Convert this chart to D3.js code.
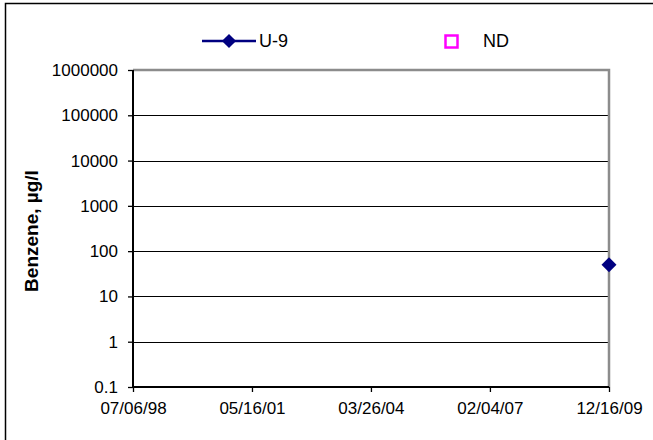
<!DOCTYPE html>
<html>
<head>
<meta charset="utf-8">
<script src="https://cdn.jsdelivr.net/npm/d3@7"></script>
<style>
  html, body { margin: 0; padding: 0; background: #fff; }
  svg { display: block; }
  text { font-family: "Liberation Sans", Arial, sans-serif; fill: #000; }
</style>
</head>
<body>
<svg id="chart" width="653" height="440"></svg>
<script>
// ---- data ----
const seriesName = "U-9";
const ndName = "ND";
const sampleDates = ["2009-12-16"];
const sampleValues = [50];
const ndDates = [];
const ndValues = [];
const yTickValues = [0.1, 1, 10, 100, 1000, 10000, 100000, 1000000];
const yTickLabels = ["0.1", "1", "10", "100", "1000", "10000", "100000", "1000000"];
const xTickDates = ["1998-07-06", "2001-05-16", "2004-03-26", "2007-02-04", "2009-12-16"];
const xTickLabels = ["07/06/98", "05/16/01", "03/26/04", "02/04/07", "12/16/09"];
const yLabel = "Benzene, µg/l";

// ---- layout ----
const W = 653, H = 440;
const plot = { left: 133, right: 609, top: 70, bottom: 387 };
const parse = d3.utcParse("%Y-%m-%d");

const svg = d3.select("#chart");
svg.append("rect").attr("width", W).attr("height", H).attr("fill", "#fff");
// outer frame
svg.append("rect").attr("x", 5.5).attr("y", 3.5).attr("width", 700).attr("height", 500)
  .attr("fill", "none").attr("stroke", "#000").attr("stroke-width", 1.5);

const x = d3.scaleUtc()
  .domain([parse(xTickDates[0]), parse(xTickDates[xTickDates.length - 1])])
  .range([plot.left, plot.right]);
const y = d3.scaleLog()
  .domain([yTickValues[0], yTickValues[yTickValues.length - 1]])
  .range([plot.bottom, plot.top]);

// gridlines
svg.append("g").selectAll("line")
  .data(yTickValues.slice(1, -1))
  .join("line")
  .attr("x1", plot.left).attr("x2", plot.right)
  .attr("y1", d => Math.round(y(d)) + 0.5).attr("y2", d => Math.round(y(d)) + 0.5)
  .attr("stroke", "#000").attr("stroke-width", 1);

// top & right frame (gray)
svg.append("path")
  .attr("d", `M${plot.left},${plot.top} H${plot.right} V${plot.bottom}`)
  .attr("fill", "none").attr("stroke", "#8c8c8c").attr("stroke-width", 2.5);

// y axis
const yAxis = d3.axisLeft(y)
  .tickValues(yTickValues)
  .tickFormat((d, i) => yTickLabels[i])
  .tickSize(5).tickPadding(10);
const gy = svg.append("g").attr("transform", `translate(${plot.left},0)`).call(yAxis);
gy.select(".domain").attr("stroke", "#000").attr("stroke-width", 2)
  .attr("d", `M0,${plot.top}V${plot.bottom}`);
gy.selectAll(".tick line").attr("stroke", "#000").attr("stroke-width", 1.3);
gy.selectAll(".tick text").style("font-size", "17px").attr("font-family", "Liberation Sans, Arial, sans-serif").attr("fill", "#000");

// x axis
const xAxis = d3.axisBottom(x)
  .tickValues(xTickDates.map(parse))
  .tickFormat((d, i) => xTickLabels[i])
  .tickSize(5).tickPadding(10);
const gx = svg.append("g").attr("transform", `translate(0,${plot.bottom})`).call(xAxis);
gx.select(".domain").attr("stroke", "#000").attr("stroke-width", 2)
  .attr("d", `M${plot.left},0H${plot.right}`);
gx.selectAll(".tick line").attr("stroke", "#000").attr("stroke-width", 1.3);
gx.selectAll(".tick text").style("font-size", "17px").attr("font-family", "Liberation Sans, Arial, sans-serif").attr("fill", "#000");

// y label
svg.append("text")
  .attr("transform", `translate(38,231) rotate(-90)`)
  .attr("text-anchor", "middle")
  .style("font-size", "19px").style("font-weight", "bold")
  .text(yLabel);

// data
const pts = sampleDates.map((d, i) => ({ date: parse(d), value: sampleValues[i] }));
svg.append("path")
  .datum(pts)
  .attr("fill", "none").attr("stroke", "#000080").attr("stroke-width", 2)
  .attr("d", d3.line().x(d => x(d.date)).y(d => y(d.value)));
svg.append("g").selectAll("path")
  .data(pts)
  .join("path")
  .attr("d", d3.symbol().type(d3.symbolSquare).size(112))
  .attr("transform", d => `translate(${x(d.date)},${y(d.value)}) rotate(45)`)
  .attr("fill", "#000080");
const ndPts = ndDates.map((d, i) => ({ date: parse(d), value: ndValues[i] }));
svg.append("g").selectAll("rect")
  .data(ndPts).join("rect")
  .attr("x", d => x(d.date) - 6).attr("y", d => y(d.value) - 6)
  .attr("width", 12).attr("height", 12)
  .attr("fill", "none").attr("stroke", "#ff00ff").attr("stroke-width", 2.5);

// legend
const lg = svg.append("g");
lg.append("line").attr("x1", 202).attr("x2", 256).attr("y1", 41).attr("y2", 41)
  .attr("stroke", "#000080").attr("stroke-width", 2.5);
lg.append("path").attr("d", d3.symbol().type(d3.symbolSquare).size(100))
  .attr("transform", "translate(229,41) rotate(45)").attr("fill", "#000080");
lg.append("text").attr("x", 259).attr("y", 41).attr("dy", "0.35em")
  .style("font-size", "18px").text(seriesName);
lg.append("rect").attr("x", 445.5).attr("y", 35.5).attr("width", 12).attr("height", 12)
  .attr("fill", "none").attr("stroke", "#ff00ff").attr("stroke-width", 2.5);
lg.append("text").attr("x", 483).attr("y", 41).attr("dy", "0.35em")
  .style("font-size", "18px").text(ndName);
</script>
</body>
</html>
